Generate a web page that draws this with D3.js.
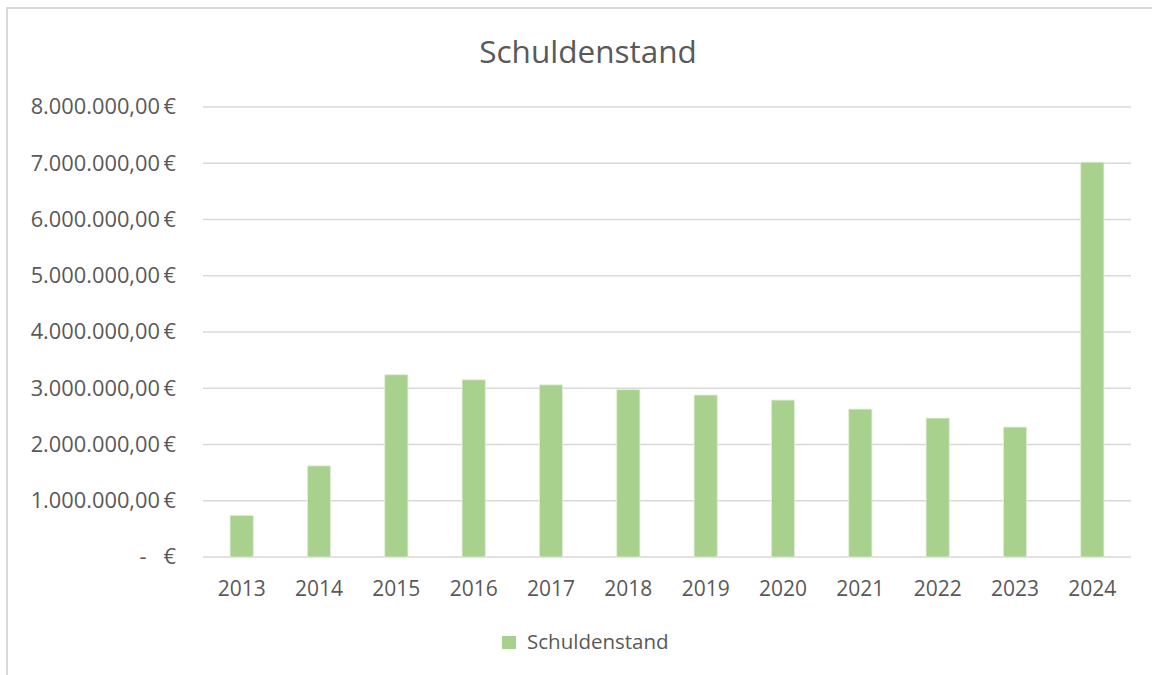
<!DOCTYPE html>
<html>
<head>
<meta charset="utf-8">
<script src="https://cdn.jsdelivr.net/npm/d3@7"></script>
<style>
  body { margin: 0; background: #fff; }
  svg { display: block; font-family: 'Segoe UI', 'Open Sans', sans-serif; }
</style>
</head>
<body>
<div id="draw"></div>
<script>
const years = ['2013', '2014', '2015', '2016', '2017', '2018', '2019', '2020', '2021', '2022', '2023', '2024']
const schuldenstand = [740000, 1620000, 3240000, 3150000, 3060000, 2975000, 2880000, 2790000, 2630000, 2470000, 2310000, 7020000]
const yTicks = [0, 1000000, 2000000, 3000000, 4000000, 5000000, 6000000, 7000000, 8000000]
const seriesName = 'Schuldenstand'
const chartTitle = 'Schuldenstand'

const W = 1152
const H = 675
const margin = { top: 107, right: 21, bottom: 118, left: 203 }
const width = W - margin.left - margin.right
const height = H - margin.top - margin.bottom
const fontFamily = "'Segoe UI', 'Open Sans', sans-serif"

const svg = d3.select('#draw')
  .append('svg')
  .attr('width', W)
  .attr('height', H)

// chart frame
svg.append('rect')
  .attr('x', 7)
  .attr('y', 8)
  .attr('width', W + 20)
  .attr('height', H + 20)
  .attr('fill', '#fff')
  .attr('stroke', '#d9d9d9')
  .attr('stroke-width', 2)

svg.append('text')
  .attr('x', 588)
  .attr('y', 63)
  .attr('text-anchor', 'middle')
  .attr('fill', '#595959')
  .style('font-size', '31.5px')
  .text(chartTitle)

const g = svg.append('g')
  .attr('transform', 'translate(' + margin.left + ',' + margin.top + ')')

const x = d3.scaleBand()
  .domain(years)
  .range([0, width])
  .paddingInner(0.7)
  .paddingOuter(0.35)

const y = d3.scaleLinear()
  .domain([0, 8000000])
  .range([height, 0])

const fmt = function (v) {
  if (v === 0) return '-\u00a0\u00a0\u00a0€'
  return d3.format(',')(v).replace(/,/g, '.') + ',00\u2009€'
}

// gridlines
g.append('g')
  .selectAll('line')
  .data(yTicks)
  .enter().append('line')
  .attr('x1', 0)
  .attr('x2', width)
  .attr('y1', function (d) { return y(d) })
  .attr('y2', function (d) { return y(d) })
  .attr('stroke', '#d9d9d9')
  .attr('stroke-width', 1.5)

const yAxis = d3.axisLeft(y)
  .tickValues(yTicks)
  .tickFormat(fmt)
  .tickSize(0)
  .tickPadding(27)

g.append('g')
  .attr('class', 'y axis')
  .call(yAxis)
  .call(function (a) { a.select('.domain').remove() })
  .selectAll('text')
  .attr('fill', '#595959')
  .style('font-size', '21.8px')
  .style('font-family', fontFamily)

g.selectAll('.bar')
  .data(schuldenstand)
  .enter().append('rect')
  .attr('class', 'bar')
  .attr('x', function (d, i) { return x(years[i]) })
  .attr('y', function (d) { return y(d) })
  .attr('width', x.bandwidth())
  .attr('height', function (d) { return height - y(d) })
  .attr('fill', '#a9d18e')
  .attr('stroke', '#e2efda')
  .attr('stroke-width', 0.8)

const xAxis = d3.axisBottom(x)
  .tickSize(0)
  .tickPadding(24)

g.append('g')
  .attr('class', 'x axis')
  .attr('transform', 'translate(0,' + height + ')')
  .call(xAxis)
  .call(function (a) { a.select('.domain').remove() })
  .selectAll('text')
  .attr('fill', '#595959')
  .style('font-size', '21px')
  .style('font-family', fontFamily)

// legend
const legend = svg.append('g')
  .attr('transform', 'translate(502,636)')

legend.append('rect')
  .attr('width', 14)
  .attr('height', 13)
  .attr('fill', '#a9d18e')

legend.append('text')
  .attr('x', 25)
  .attr('y', 13)
  .attr('fill', '#595959')
  .style('font-size', '20.5px')
  .text(seriesName)
</script>
</body>
</html>
